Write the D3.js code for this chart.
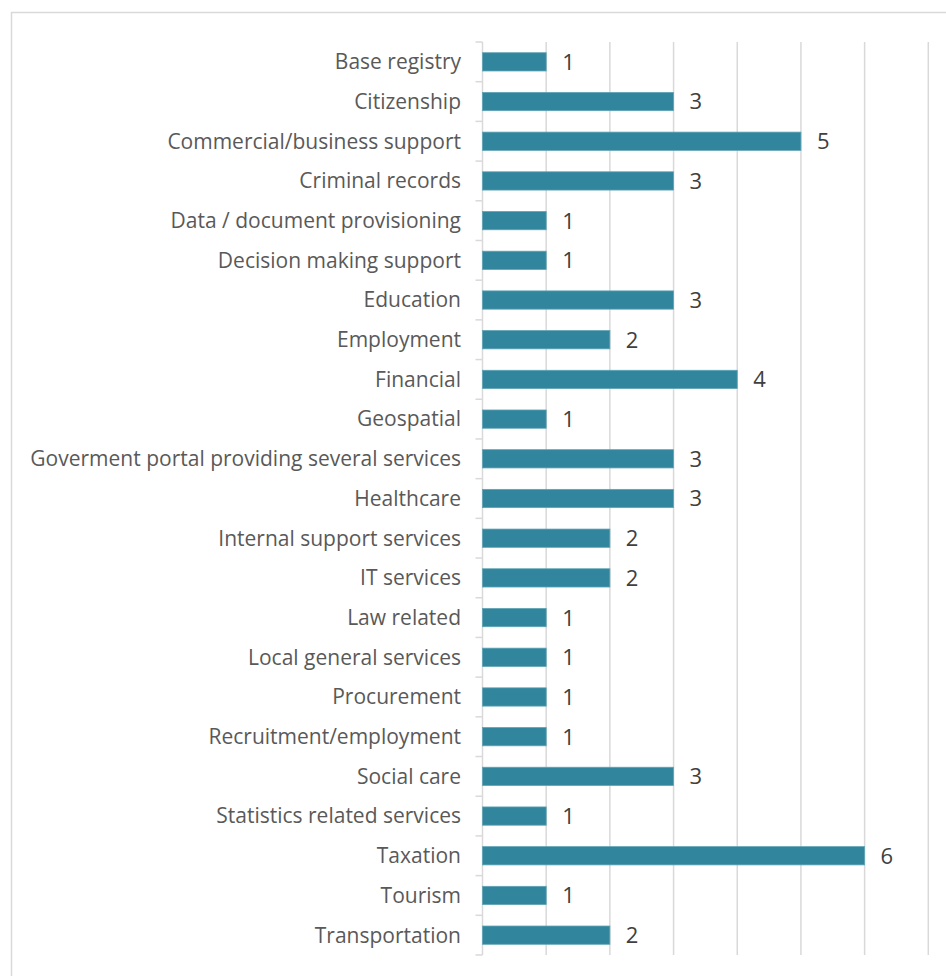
<!DOCTYPE html>
<html>
<head>
<meta charset="utf-8">
<script src="https://cdn.jsdelivr.net/npm/d3@7"></script>
<style>
  html, body { margin: 0; padding: 0; background: #ffffff; }
  svg { display: block; }
</style>
</head>
<body>
<svg id="chart" width="946" height="976"></svg>
<script>
// Service categories and number of cases per category
const categories = [
  "Base registry",
  "Citizenship",
  "Commercial/business support",
  "Criminal records",
  "Data / document provisioning",
  "Decision making support",
  "Education",
  "Employment",
  "Financial",
  "Geospatial",
  "Goverment portal providing several services",
  "Healthcare",
  "Internal support services",
  "IT services",
  "Law related",
  "Local general services",
  "Procurement",
  "Recruitment/employment",
  "Social care",
  "Statistics related services",
  "Taxation",
  "Tourism",
  "Transportation"
];
const counts = [1, 3, 5, 3, 1, 1, 3, 2, 4, 1, 3, 3, 2, 2, 1, 1, 1, 1, 3, 1, 6, 1, 2];
const xTicks = [0, 1, 2, 3, 4, 5, 6, 7];

const svg = d3.select("#chart");
const fontFamily = "'Open Sans', 'Noto Sans', sans-serif";

// Outer frame of the chart area
svg.append("rect")
  .attr("x", 11.5).attr("y", 12.5)
  .attr("width", 960).attr("height", 990)
  .attr("fill", "none")
  .attr("stroke", "#d9d9d9")
  .attr("stroke-width", 1.5);

const x = d3.scaleLinear().domain([0, 7]).range([482.5, 928.3]);
const y = d3.scaleBand().domain(categories).range([42, 955]).paddingInner(0.54).paddingOuter(0.27);

// Vertical gridlines
svg.append("g")
  .selectAll("line")
  .data(xTicks.slice(1))
  .join("line")
  .attr("x1", d => x(d)).attr("x2", d => x(d))
  .attr("y1", 42).attr("y2", 955)
  .attr("stroke", "#d9d9d9")
  .attr("stroke-width", 1.5);

// Category axis with ticks at the band boundaries
const boundaries = d3.range(categories.length + 1).map(i => 42 + i * (913 / categories.length));
const axisG = svg.append("g");
axisG.append("line")
  .attr("x1", x(0)).attr("x2", x(0))
  .attr("y1", 42).attr("y2", 955)
  .attr("stroke", "#d9d9d9").attr("stroke-width", 1.5);
axisG.selectAll("line.tick")
  .data(boundaries)
  .join("line")
  .attr("class", "tick")
  .attr("x1", x(0) - 7).attr("x2", x(0))
  .attr("y1", d => d).attr("y2", d => d)
  .attr("stroke", "#d9d9d9").attr("stroke-width", 1.5);

const bandCenter = c => y(c) + y.bandwidth() / 2;

axisG.selectAll("text")
  .data(categories)
  .join("text")
  .attr("x", 461)
  .attr("y", d => bandCenter(d))
  .attr("dy", "0.35em")
  .attr("text-anchor", "end")
  .attr("font-family", fontFamily)
  .attr("font-size", 21)
  .attr("fill", "#595959")
  .text(d => d);

// Bars
svg.append("g")
  .selectAll("rect")
  .data(categories)
  .join("rect")
  .attr("x", x(0))
  .attr("y", d => y(d))
  .attr("width", (d, i) => x(counts[i]) - x(0))
  .attr("height", y.bandwidth())
  .attr("fill", "#31859c")
  .attr("stroke", "#5fa3b5")
  .attr("stroke-width", 0.8);

// Value labels
svg.append("g")
  .selectAll("text")
  .data(categories)
  .join("text")
  .attr("x", (d, i) => x(counts[i]) + 16)
  .attr("y", d => bandCenter(d))
  .attr("dy", "0.36em")
  .attr("font-family", fontFamily)
  .attr("font-size", 22)
  .attr("fill", "#404040")
  .text((d, i) => counts[i]);
</script>
</body>
</html>
